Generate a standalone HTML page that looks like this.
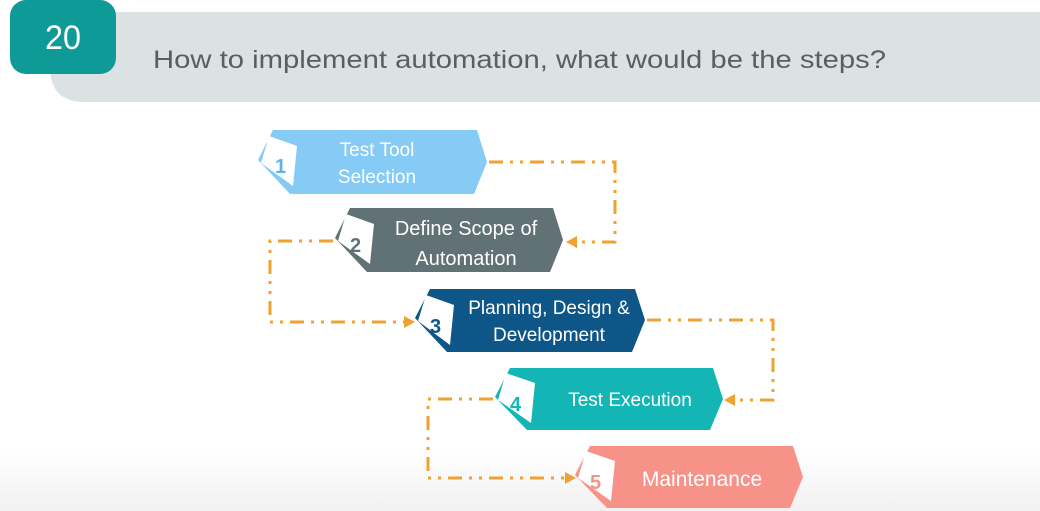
<!DOCTYPE html>
<html><head><meta charset="utf-8"><style>
html,body{margin:0;padding:0;background:#fff}
svg{display:block}
text{font-family:"Liberation Sans",sans-serif}
</style></head><body>
<svg width="1040" height="511" viewBox="0 0 1040 511" xmlns="http://www.w3.org/2000/svg">
<defs>
<linearGradient id="bg" x1="0" y1="0" x2="0" y2="1">
<stop offset="0.88" stop-color="#ffffff"/><stop offset="1" stop-color="#f1f1f1"/>
</linearGradient>
</defs>
<rect width="1040" height="511" fill="url(#bg)"/>
<path d="M50 12 H1040 V102 H85 Q50 102 50 67 Z" fill="#dce2e4"/>
<rect x="10" y="0" width="106" height="74" rx="16" fill="#0e9a96"/>
<text x="63" y="49" font-size="34" fill="#fff" text-anchor="middle" textLength="36" lengthAdjust="spacingAndGlyphs">20</text>
<text x="153" y="68" font-size="25" fill="#5a5e60" textLength="733" lengthAdjust="spacingAndGlyphs">How to implement automation, what would be the steps?</text>

<g fill="none" stroke="#efa22f" stroke-width="3" stroke-dasharray="14,7,3,7,3,7">
<polyline points="489,162 615,162 615,242 575,242"/>
<polyline points="333,241 270,241 270,322 406,322"/>
<polyline points="647,320 773,320 773,400 733,400"/>
<polyline points="493,399 428,399 428,478 567,478"/>
</g>
<g fill="#efa22f">
<polygon points="566,242 577,236 577,248"/>
<polygon points="415,322 404,316 404,328"/>
<polygon points="724,400 735,394 735,406"/>
<polygon points="576,478 565,472 565,484"/>
</g>

<g>
<polygon points="273,130 477,130 487,162 474,194 290,194 258,160" fill="#86cbf6"/>
<polygon points="269,136 297,146 293,186 261,163" fill="#fff"/>
<text x="275" y="173" font-size="20" font-weight="bold" fill="#5bb3ee">1</text>
<text x="377" y="156" font-size="19" fill="#fff" text-anchor="middle">Test Tool</text>
<text x="377" y="183" font-size="19" fill="#fff" text-anchor="middle">Selection</text>

<polygon points="350,208 553,208 563,240 550,272 367,272 335,238" fill="#607276"/>
<polygon points="346,214 374,224 370,264 338,241" fill="#fff"/>
<text x="350" y="252" font-size="20" font-weight="bold" fill="#607276">2</text>
<text x="466" y="235" font-size="20" fill="#fff" text-anchor="middle">Define Scope of</text>
<text x="466" y="265" font-size="20" fill="#fff" text-anchor="middle">Automation</text>

<polygon points="430,289 635,289 645,320 632,352 447,352 415,318" fill="#0f5688"/>
<polygon points="426,295 454,305 450,345 418,321" fill="#fff"/>
<text x="430" y="333" font-size="20" font-weight="bold" fill="#0f5688">3</text>
<text x="549" y="314" font-size="19" fill="#fff" text-anchor="middle">Planning, Design &amp;</text>
<text x="549" y="341" font-size="19" fill="#fff" text-anchor="middle">Development</text>

<polygon points="510,368 713,368 723,399 710,430 527,430 495,397" fill="#13b5b5"/>
<polygon points="506,373 535,383 531,423 498,400" fill="#fff"/>
<text x="510" y="411" font-size="20" font-weight="bold" fill="#13b5b5">4</text>
<text x="630" y="406" font-size="19" fill="#fff" text-anchor="middle">Test Execution</text>

<polygon points="590,446 793,446 803,477 790,508 607,508 575,475" fill="#f79289"/>
<polygon points="586,451 615,461 611,501 578,478" fill="#fff"/>
<text x="590" y="489" font-size="20" font-weight="bold" fill="#f79289">5</text>
<text x="702" y="486" font-size="21" fill="#fff" text-anchor="middle">Maintenance</text>
</g>
</svg>
</body></html>
